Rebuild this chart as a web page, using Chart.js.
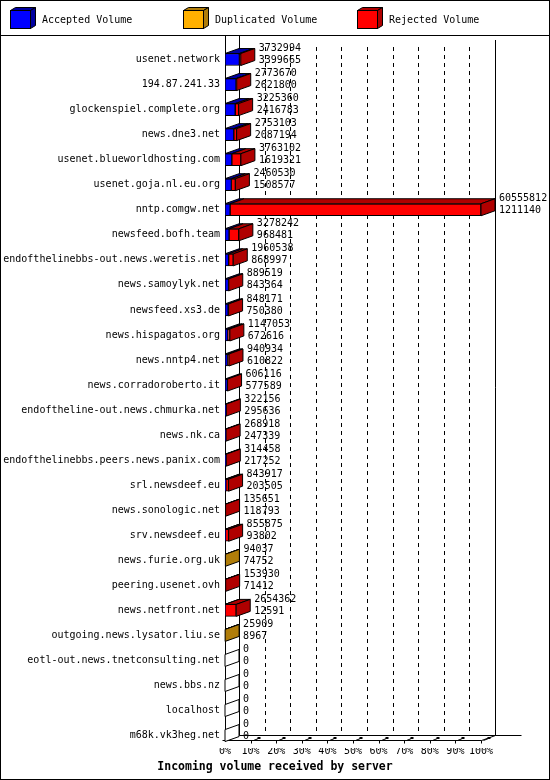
<!DOCTYPE html>
<html>
<head>
<meta charset="utf-8">
<script src="https://cdn.jsdelivr.net/npm/chart.js@4.4.1/dist/chart.umd.min.js"></script>
<style>
html,body{margin:0;padding:0;background:#fff;overflow:hidden}
canvas{display:block}
</style>
</head>
<body>
<canvas id="c" width="550" height="780"></canvas>
<script>
const servers = [
  'usenet.network','194.87.241.33','glockenspiel.complete.org','news.dne3.net',
  'usenet.blueworldhosting.com','usenet.goja.nl.eu.org','nntp.comgw.net','newsfeed.bofh.team',
  'endofthelinebbs-out.news.weretis.net','news.samoylyk.net','newsfeed.xs3.de','news.hispagatos.org',
  'news.nntp4.net','news.corradoroberto.it','endoftheline-out.news.chmurka.net','news.nk.ca',
  'endofthelinebbs.peers.news.panix.com','srl.newsdeef.eu','news.sonologic.net','srv.newsdeef.eu',
  'news.furie.org.uk','peering.usenet.ovh','news.netfront.net','outgoing.news.lysator.liu.se',
  'eotl-out.news.tnetconsulting.net','news.bbs.nz','localhost','m68k.vk3heg.net'
];
const totalVolume = [
  3732994,2773670,3225360,2753103,3763102,2460530,60555812,3278242,
  1960538,889519,848171,1147053,940934,606116,322156,268918,
  314458,843917,135651,855875,94037,153930,2654362,25909,0,0,0,0
];
const acceptedVolume = [
  3399665,2621800,2416783,2087194,1619321,1508577,1211140,968481,
  868997,843364,750380,672616,610822,577589,295636,247339,
  217252,203505,118793,93802,74752,71412,12591,8967,0,0,0,0
];
const duplicatedVolume = [
  0,0,0,0,0,0,0,0,
  0,0,0,0,0,0,0,0,
  0,0,0,0,19285,0,0,16942,0,0,0,0
];
const rejectedVolume = [
  333329,151870,808577,665909,2143781,951953,59344672,2309761,
  1091541,46155,97791,474437,330112,28527,26520,21579,
  97206,640412,16858,762073,0,82518,2641771,0,0,0,0,0
];
const seriesNames = ['Accepted Volume','Duplicated Volume','Rejected Volume'];
const percentTicks = ['0%','10%','20%','30%','40%','50%','60%','70%','80%','90%','100%'];
const chartTitle = 'Incoming volume received by server';

const frontColors = ['#0000ff','#ffb000','#ff0000'];
const darkColors = ['#0000a0','#b07d0a','#b00000'];
const FONT = 'DejaVu Sans Mono';
const maxTotal = Math.max(...totalVolume);
const DX = 14, DY = -5;

function poly(ctx, pts, fill) {
  ctx.beginPath();
  ctx.moveTo(pts[0][0], pts[0][1]);
  for (let i = 1; i < pts.length; i++) ctx.lineTo(pts[i][0], pts[i][1]);
  ctx.closePath();
  if (fill) { ctx.fillStyle = fill; ctx.fill(); }
  ctx.stroke();
}
function line(ctx, x1, y1, x2, y2) {
  ctx.beginPath(); ctx.moveTo(x1, y1); ctx.lineTo(x2, y2); ctx.stroke();
}

const deco = {
  id: 'deco',
  beforeDraw(chart) {
    const ctx = chart.ctx;
    ctx.save();
    ctx.fillStyle = '#fff';
    ctx.fillRect(0, 0, chart.width, chart.height);
    ctx.strokeStyle = '#000'; ctx.lineWidth = 1;
    ctx.strokeRect(0.5, 0.5, chart.width - 1, chart.height - 1);
    line(ctx, 0, 35.5, chart.width, 35.5);
    // legend
    const lx = [10, 183, 357];
    ctx.font = '10px "' + FONT + '"';
    ctx.textBaseline = 'middle';
    seriesNames.forEach((n, i) => {
      const x = lx[i] + 0.5, y = 10.5, w = 20, h = 18, dx = 5, dy = -3;
      poly(ctx, [[x, y], [x + w, y], [x + w + dx, y + dy], [x + dx, y + dy]], darkColors[i]);
      poly(ctx, [[x + w, y], [x + w + dx, y + dy], [x + w + dx, y + h + dy], [x + w, y + h]], darkColors[i]);
      ctx.fillStyle = frontColors[i];
      ctx.fillRect(x, y, w, h);
      ctx.strokeRect(x, y, w, h);
      ctx.fillStyle = '#000';
      ctx.fillText(n, lx[i] + 32, 20);
    });
    // title
    ctx.font = 'bold 11.5px "' + FONT + '"';
    ctx.textAlign = 'center';
    ctx.fillText(chartTitle, chart.width / 2, 767);
    ctx.restore();
  },
  beforeDatasetsDraw(chart) {
    const {ctx, chartArea: ca, scales: {x}} = chart;
    const x0 = Math.round(x.getPixelForValue(0)) + 0.5;
    const x1 = Math.round(x.getPixelForValue(maxTotal)) + 0.5;
    const fy = Math.round(ca.bottom - 8) + 0.5;
    ctx.save();
    ctx.strokeStyle = '#000'; ctx.lineWidth = 1;
    ctx.setLineDash([4, 4]);
    for (let k = 1; k < 10; k++) {
      const px = Math.round(x.getPixelForValue(k * maxTotal / 10) + DX) + 0.5;
      line(ctx, px, ca.top, px, fy + DY);
    }
    ctx.setLineDash([]);
    line(ctx, x0, 36, x0, fy);
    line(ctx, x0 + DX, 36, x0 + DX, fy + DY);
    line(ctx, x1 + DX, 40, x1 + DX, fy + DY);
    // floor
    line(ctx, x0 - 3, fy, x1, fy);
    line(ctx, x0, fy, x0 + DX, fy + DY);
    line(ctx, x1, fy, x1 + DX, fy + DY);
    line(ctx, x0 + DX, fy + DY, x1 + DX + 26, fy + DY);
    for (let k = 1; k <= 10; k++) {
      const px = Math.round(x.getPixelForValue(k * maxTotal / 10)) + 0.5;
      line(ctx, px, fy, px, fy + 3);
      line(ctx, px + 2, fy, px + 7, fy - 2);
      ctx.fillStyle = '#000';
      ctx.fillRect(px + 6, fy - 3.5, 3, 2);
    }
    ctx.restore();
  },
  afterDatasetsDraw(chart) {
    const {ctx, scales: {x, y}} = chart;
    const metas = chart.getSortedVisibleDatasetMetas();
    ctx.save();
    ctx.strokeStyle = '#000'; ctx.lineWidth = 1;
    servers.forEach((s, i) => {
      const segs = [];
      metas.forEach(m => {
        const v = chart.data.datasets[m.index].data[i];
        const el = m.data[i];
        if (v > 0) {
          const p = el.getProps(['x', 'y', 'base', 'height'], true);
          segs.push({a: Math.min(p.base, p.x), b: Math.max(p.base, p.x), y: p.y, h: p.height, d: m.index});
        }
      });
      const cy = y.getPixelForValue(i);
      const top = cy - 6, bot = cy + 6;
      let end = x.getPixelForValue(0);
      segs.forEach(sg => {
        poly(ctx, [[sg.a, top], [sg.b, top], [sg.b + DX, top + DY], [sg.a + DX, top + DY]], darkColors[sg.d]);
        end = sg.b;
      });
      const sideFill = segs.length ? darkColors[segs[segs.length - 1].d] : '#fff';
      poly(ctx, [[end, top], [end + DX, top + DY], [end + DX, bot + DY], [end, bot]], sideFill);
      // numbers
      const tx = x.getPixelForValue(totalVolume[i]) + DX + 4;
      ctx.fillStyle = '#000';
      ctx.font = '10px "' + FONT + '"';
      ctx.textBaseline = 'middle';
      ctx.textAlign = 'left';
      ctx.fillText(String(totalVolume[i]), tx, cy - 11);
      ctx.fillText(String(acceptedVolume[i]), tx, cy + 1);
    });
    ctx.restore();
  }
};

const seriesData = [acceptedVolume, duplicatedVolume, rejectedVolume];
new Chart(document.getElementById('c'), {
  type: 'bar',
  data: {
    labels: servers,
    datasets: seriesNames.map((n, i) => ({
      label: n,
      data: seriesData[i],
      backgroundColor: frontColors[i],
      borderColor: '#000',
      borderWidth: 1,
      borderSkipped: false,
      barThickness: 12
    }))
  },
  options: {
    indexAxis: 'y',
    responsive: false,
    animation: false,
    devicePixelRatio: 1,
    layout: {padding: {left: 0, right: 69, top: 47, bottom: 19.8}},
    plugins: {
      legend: {display: false},
      tooltip: {enabled: false},
      title: {display: false}
    },
    scales: {
      x: {
        stacked: true,
        min: 0,
        max: maxTotal,
        grid: {display: false, drawTicks: false},
        border: {display: false},
        afterBuildTicks: (sc) => { sc.ticks = percentTicks.map((t, k) => ({value: k * maxTotal / 10})); },
        afterFit: (sc) => { sc.height = 12.1; },
        ticks: {
          color: '#000',
          font: {family: FONT, size: 10},
          padding: -3,
          maxRotation: 0,
          autoSkip: false,
          callback: (v, idx) => percentTicks[idx]
        }
      },
      y: {
        stacked: true,
        grid: {display: false, drawTicks: false},
        border: {display: false},
        afterFit: (sc) => { sc.width = 225; },
        ticks: {
          color: '#000',
          font: {family: FONT, size: 10},
          padding: 5,
          autoSkip: false
        }
      }
    }
  },
  plugins: [deco]
});
</script>
</body>
</html>
